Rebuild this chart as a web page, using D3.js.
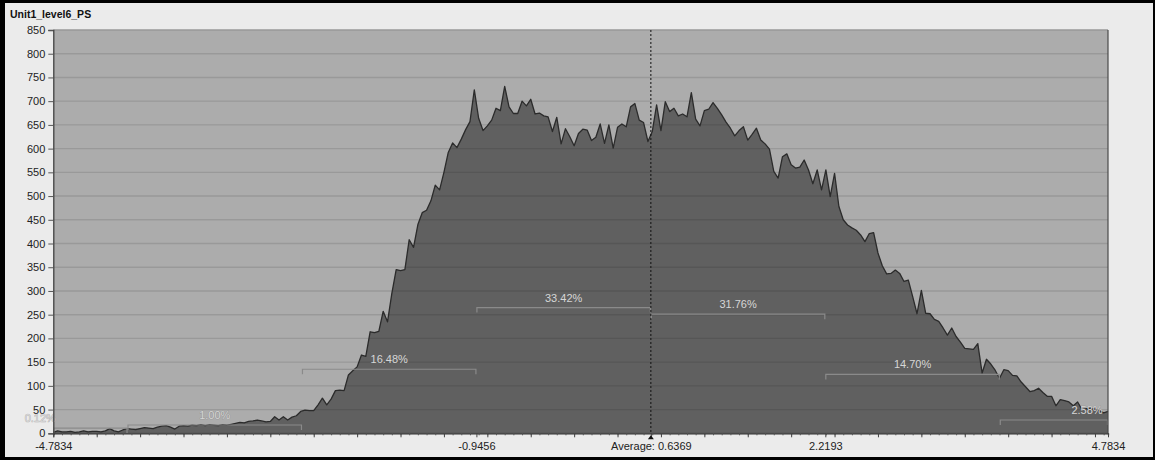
<!DOCTYPE html>
<html>
<head>
<meta charset="utf-8">
<script src="https://cdn.jsdelivr.net/npm/d3@7"></script>
<style>
  html, body { margin: 0; padding: 0; background: #000; }
  svg { display: block; }
  text { font-family: "Liberation Sans", Arial, sans-serif; }
</style>
</head>
<body>
<svg id="chart" width="1155" height="460"></svg>
<script>
// ---- data ---------------------------------------------------------------
const title = "Unit1_level6_PS";
const xDomain = [-4.7834, 4.7834];
const meanValue = 0.6369;
const sigma = 1.5824;
const yTicks = [0, 50, 100, 150, 200, 250, 300, 350, 400, 450, 500, 550, 600, 650, 700, 750, 800, 850];

// histogram counts, evenly spaced bins across xDomain
const counts = [
  2, 5, 3, 3, 4, 2, 3, 5, 3, 4,
  4, 3, 5, 10, 5, 3, 7, 10, 9, 8,
  10, 12, 11, 10, 13, 15, 16, 13, 9, 15,
  16, 15, 17, 16, 18, 16, 18, 17, 16, 18,
  17, 19, 21, 23, 22, 25, 26, 28, 26, 24,
  25, 35, 28, 35, 28, 34, 37, 46, 49, 48,
  48, 60, 74, 60, 72, 90, 91, 90, 123, 132,
  140, 165, 162, 214, 212, 215, 257, 235, 295, 345,
  343, 345, 408, 392, 440, 465, 470, 490, 523, 513,
  550, 592, 612, 602, 620, 640, 657, 724, 664, 638,
  648, 660, 685, 680, 731, 688, 674, 674, 700, 690,
  704, 673, 675, 669, 667, 636, 666, 610, 642, 625,
  606, 632, 641, 639, 617, 624, 652, 611, 650, 601,
  645, 652, 646, 688, 695, 660, 655, 615, 636, 692,
  638, 699, 678, 685, 669, 673, 667, 718, 662, 648,
  680, 683, 697, 685, 671, 656, 643, 627, 638, 646,
  618, 630, 643, 618, 610, 599, 552, 538, 583, 589,
  566, 559, 561, 576, 555, 526, 555, 513, 555, 499,
  548, 478, 450, 439, 433, 428, 418, 404, 421, 423,
  380, 353, 336, 337, 344, 337, 320, 323, 288, 252,
  301, 253, 252, 240, 236, 222, 207, 222, 204, 192,
  179, 178, 177, 189, 127, 156, 146, 133, 116, 134,
  132, 122, 121, 108, 98, 88, 90, 95, 86, 78,
  78, 58, 71, 69, 66, 58, 66, 50, 52, 53,
  51, 48, 43, 46
];

// share of samples in each sigma band (mean-4σ .. mean+3σ)
const bandSigmas = [-4, -3, -2, -1, 0, 1, 2, 3];
const bandLabels = ["0.12%", "1.00%", "16.48%", "33.42%", "31.76%", "14.70%", "2.58%"];
const bandLevels = [11, 17.5, 135, 265, 251, 124, 28];

const xLabelValues = [-4.7834, -0.9456, 0.6369, 2.2193, 4.7834];
const xLabelTexts = ["-4.7834", "-0.9456", "Average: 0.6369", "2.2193", "4.7834"];

// ---- layout -------------------------------------------------------------
const W = 1155, H = 460;
const plot = { left: 53.3, right: 1108, top: 30, bottom: 433.3 };

const svg = d3.select("#chart");

// outer frame: black edge with light panel
svg.append("rect").attr("x", 0).attr("y", 0).attr("width", W).attr("height", H).attr("fill", "#000");
svg.append("rect").attr("x", 5).attr("y", 3).attr("width", 1148).attr("height", 454).attr("fill", "#ebebeb");

const x = d3.scaleLinear().domain(xDomain).range([plot.left, plot.right]);
const y = d3.scaleLinear().domain([0, 850]).range([plot.bottom, plot.top]);

// plot background
svg.append("rect")
  .attr("x", plot.left).attr("y", plot.top)
  .attr("width", plot.right - plot.left).attr("height", plot.bottom - plot.top)
  .attr("fill", "#acacac");

// horizontal grid
svg.append("g").selectAll("line").data(yTicks).join("line")
  .attr("x1", plot.left).attr("x2", plot.right)
  .attr("y1", d => y(d)).attr("y2", d => y(d))
  .attr("stroke", "#999999").attr("stroke-width", 1.4);

// histogram area
const n = counts.length;
const step = (xDomain[1] - xDomain[0]) / (n - 1);
const pts = counts.map((c, i) => ({ v: xDomain[0] + i * step, c }));

const area = d3.area().x(d => x(d.v)).y0(y(0)).y1(d => y(d.c)).curve(d3.curveLinear);
const line = d3.line().x(d => x(d.v)).y(d => y(d.c)).curve(d3.curveLinear);

svg.append("path").datum(pts).attr("d", area).attr("fill", "rgba(0,0,0,0.44)");
svg.append("path").datum(pts).attr("d", line)
  .attr("fill", "none").attr("stroke", "#2b2b2b").attr("stroke-width", 1.3)
  .attr("stroke-linejoin", "round");

// sigma band brackets
const clipId = "plotclip";
svg.append("clipPath").attr("id", clipId).append("rect")
  .attr("x", plot.left).attr("y", plot.top)
  .attr("width", plot.right - plot.left).attr("height", plot.bottom - plot.top);

const bands = bandLabels.map((label, i) => ({
  label,
  level: bandLevels[i],
  a: meanValue + bandSigmas[i] * sigma,
  b: meanValue + bandSigmas[i + 1] * sigma
}));

const bg = svg.append("g");
const br = bg.append("g").attr("clip-path", `url(#${clipId})`);
br.selectAll("path").data(bands).join("path")
  .attr("d", d => {
    const x0 = Math.max(x(d.a), plot.left) + 0.5, x1 = Math.min(x(d.b), plot.right) - 0.5, yy = y(d.level);
    return `M${x0},${yy + 5}V${yy}H${x1}V${yy + 5}`;
  })
  .attr("fill", "none").attr("stroke", "#8a8a8a").attr("stroke-width", 1.2);

bg.selectAll("text").data(bands).join("text")
  .attr("x", d => (x(d.a) + x(d.b)) / 2)
  .attr("y", d => y(d.level) - 6)
  .attr("text-anchor", "middle")
  .attr("font-size", 11)
  .attr("fill", "#d6d6d6")
  .attr("stroke", "rgba(100,100,100,0.45)").attr("stroke-width", 0.7)
  .attr("paint-order", "stroke")
  .text(d => d.label);

// plot edges
svg.append("line").attr("x1", plot.right).attr("x2", plot.right).attr("y1", plot.top).attr("y2", plot.bottom)
  .attr("stroke", "#4a4a4a").attr("stroke-width", 1.2);

// y axis
const yAxis = d3.axisLeft(y).tickValues(yTicks).tickSize(5).tickPadding(3).tickFormat(d3.format("d"));
const gy = svg.append("g").attr("transform", `translate(${plot.left},0)`).call(yAxis);
gy.select(".domain").attr("stroke", "#444").attr("stroke-width", 1.3);
gy.selectAll(".tick line").attr("stroke", "#555");
gy.selectAll(".tick text").attr("font-size", 11).attr("fill", "#222")
  .attr("font-family", "Liberation Sans, Arial, sans-serif");

// x axis: minor and major tick marks at bin spacing
const minorVals = d3.range(0, n, 2).map(i => xDomain[0] + i * step);
const majorVals = d3.range(0, n, 10).map(i => xDomain[0] + i * step);
const gx = svg.append("g").attr("transform", `translate(0,${plot.bottom})`);
gx.call(d3.axisBottom(x).tickValues(minorVals).tickSize(2).tickFormat(""));
gx.select(".domain").attr("stroke", "#333").attr("stroke-width", 1.3);
gx.selectAll(".tick line").attr("stroke", "#555");
const gx2 = svg.append("g").attr("transform", `translate(0,${plot.bottom})`);
gx2.call(d3.axisBottom(x).tickValues(majorVals).tickSize(4).tickFormat(""));
gx2.select(".domain").remove();
gx2.selectAll(".tick line").attr("stroke", "#444");

const gx3 = svg.append("g").attr("transform", `translate(0,${plot.bottom})`);
gx3.call(d3.axisBottom(x).tickValues(xLabelValues).tickSize(4).tickPadding(5)
  .tickFormat((d, i) => xLabelTexts[i]));
gx3.select(".domain").remove();
gx3.selectAll(".tick line").attr("stroke", "#444");
gx3.selectAll(".tick text").attr("font-size", 11).attr("fill", "#222")
  .attr("font-family", "Liberation Sans, Arial, sans-serif");

// average marker
const ax = x(meanValue);
svg.append("line").attr("x1", ax).attr("x2", ax).attr("y1", plot.top).attr("y2", plot.bottom)
  .attr("stroke", "#111").attr("stroke-width", 1).attr("stroke-dasharray", "2,2");
svg.append("path")
  .attr("d", `M${ax - 3},${plot.bottom + 6}L${ax},${plot.bottom + 2}L${ax + 3},${plot.bottom + 6}Z`)
  .attr("fill", "#111");

// title
svg.append("text").attr("x", 10).attr("y", 17.5)
  .attr("font-size", 10.5).attr("font-weight", "bold").attr("fill", "#111")
  .text(title);
</script>
</body>
</html>
